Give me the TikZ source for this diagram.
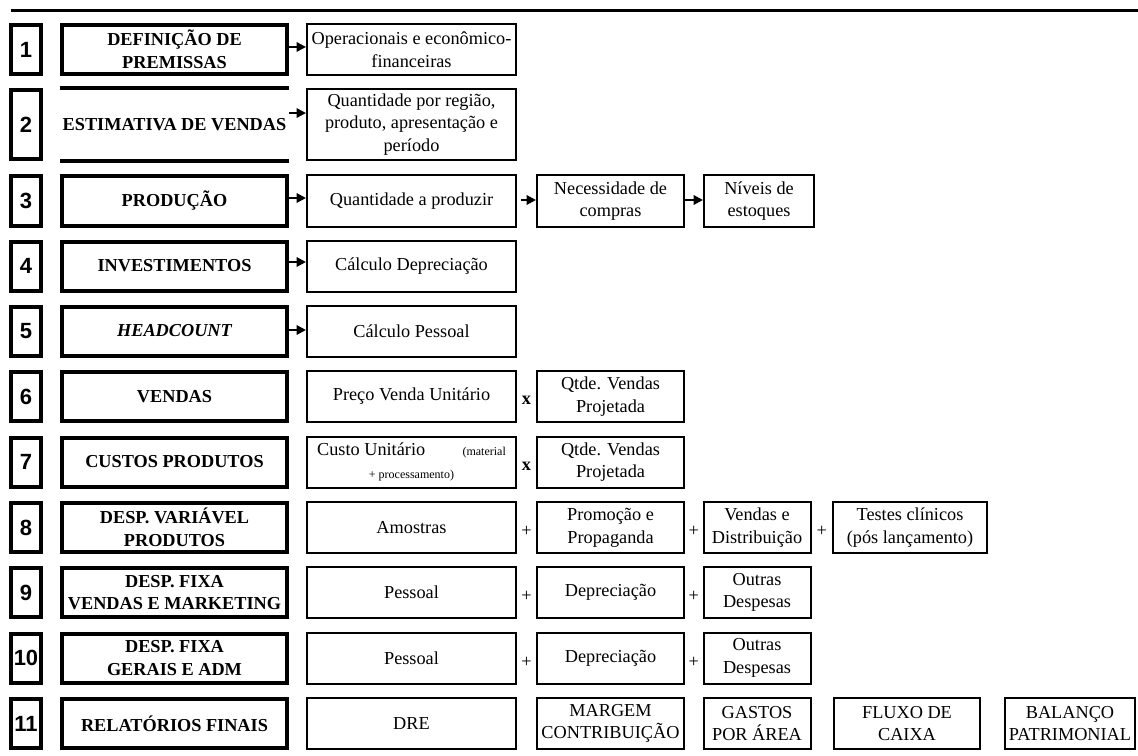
\documentclass[tikz,border=0pt]{standalone}
\usepackage{fontspec}
\setmainfont{Liberation Serif}
\newfontfamily\numfont{Liberation Sans}
\usetikzlibrary{arrows.meta,calc}
\newcommand{\txtsize}{\fontsize{13.7}{17}\selectfont}
\newcommand{\smallsize}{\fontsize{9}{11}\selectfont}

\begin{document}
\begin{tikzpicture}[x=0.75pt, y=-0.75pt,
  font=\txtsize,
  numbox/.style={draw, line width=3pt, inner sep=0pt, minimum width=22.5pt, minimum height=36.75pt, font=\numfont\bfseries\fontsize{16.5}{18}\selectfont},
  mainbox/.style={draw, line width=3pt, inner sep=0pt, minimum width=168.75pt, minimum height=36.75pt, align=center, font=\bfseries\txtsize},
  dbox/.style={draw, line width=1.5pt, inner sep=0pt, minimum width=#1*0.75pt, minimum height=38.25pt, align=center},
  op/.style={inner sep=0pt, yshift=-3pt},
  arr/.style={line width=1.5pt, -{Triangle[length=7pt, width=7pt]}}
]
  \useasboundingbox (0,0) rectangle (1138,756);
  \draw[line width=2.25pt] (11,11) -- (1138,11);

  \foreach \i/\y in {1/49.5,3/201,4/266,5/331,6/396.5,7/462,8/527.5,9/592.5,10/658,11/723.5}
    {\node[numbox] (n\i) at (26,\y) {\i};}
  \node[numbox, minimum height=51.75pt] (n2) at (26,124.5) {2};

  \node[mainbox] (m1) at (174.5,49.5) {DEFINIÇÃO DE\\PREMISSAS};
  \node[mainbox, draw=none, minimum height=51.75pt] (m2) at (174.5,124.5) {ESTIMATIVA DE VENDAS};
  \draw[line width=3pt] (m2.north west) -- (m2.north east) (m2.south west) -- (m2.south east);
  \node[mainbox] (m3) at (174.5,201) {PRODUÇÃO};
  \node[mainbox] (m4) at (174.5,266) {INVESTIMENTOS};
  \node[mainbox] (m5) at (174.5,331) {\itshape HEADCOUNT};
  \node[mainbox] (m6) at (174.5,396.5) {VENDAS};
  \node[mainbox] (m7) at (174.5,462) {CUSTOS PRODUTOS};
  \node[mainbox] (m8) at (174.5,527.5) {DESP. VARIÁVEL\\PRODUTOS};
  \node[mainbox] (m9) at (174.5,592.5) {DESP. FIXA\\VENDAS E MARKETING};
  \node[mainbox] (m10) at (174.5,658) {DESP. FIXA\\GERAIS E ADM};
  \node[mainbox] (m11) at (174.5,723.5) {RELATÓRIOS FINAIS};

  \node[dbox=209] (d1) at (411.5,49.5) {Operacionais e econômico-\\financeiras};
  \node[dbox=209, minimum height=53.25pt] (d2) at (411.5,124.5) {Quantidade por região,\\produto, apresentação e\\período};
  \node[dbox=209] (d3) at (411.5,201) {Quantidade a produzir};
  \node[dbox=209] (d4) at (411.5,266) {Cálculo Depreciação};
  \node[dbox=209] (d5) at (411.5,331) {Cálculo Pessoal};
  \node[dbox=209] (d6) at (411.5,396.5) {Preço Venda Unitário};
  \node[dbox=209] (d7) at (411.5,462) {Custo Unitário\hspace{28pt}{\smallsize(material}\\{\smallsize+ processamento)}};
  \node[dbox=209] (d8) at (411.5,527.5) {Amostras};
  \node[dbox=209] (d9) at (411.5,592.5) {Pessoal};
  \node[dbox=209] (d10) at (411.5,658) {Pessoal};
  \node[dbox=209] (d11) at (411.5,723.5) {DRE};

  \node[dbox=147] (e3) at (610.5,201) {Necessidade de\\compras};
  \node[dbox=147] (e6) at (610.5,396.5) {Qtde. Vendas\\Projetada};
  \node[dbox=147] (e7) at (610.5,462) {Qtde. Vendas\\Projetada};
  \node[dbox=147] (e8) at (610.5,527.5) {Promoção e\\Propaganda};
  \node[dbox=147] (e9) at (610.5,592.5) {Depreciação};
  \node[dbox=147] (e10) at (610.5,658) {Depreciação};
  \node[dbox=147] (e11) at (610.5,723.5) {MARGEM\\CONTRIBUIÇÃO};

  \node[dbox=110] (f3) at (759,201) {Níveis de\\estoques};
  \node[dbox=107] (f8) at (757,527.5) {Vendas e\\Distribuição};
  \node[dbox=107] (f9) at (757,592.5) {Outras\\Despesas};
  \node[dbox=107] (f10) at (757,658) {Outras\\Despesas};
  \node[dbox=107] (f11) at (757,723.5) {GASTOS\\POR ÁREA};

  \node[dbox=154] (g8) at (910,527.5) {Testes clínicos\\(pós lançamento)};
  \node[dbox=146] (g11) at (907,723.5) {FLUXO DE\\CAIXA};
  \node[dbox=130] (h11) at (1070,723.5) {BALANÇO\\PATRIMONIAL};

  \foreach \i in {6,7}
    {\node[op] (x\i) at ($(d\i.east)!0.5!(e\i.west)$) {\textbf{x}};}
  \foreach \i in {8,9,10}
    {\node[op] (p\i) at ($(d\i.east)!0.5!(e\i.west)$) {+};
     \node[op] (q\i) at ($(e\i.east)!0.5!(f\i.west)$) {+};}
  \node[op] (r8) at ($(f8.east)!0.5!(g8.west)$) {+};

  \foreach \i/\s in {1/1.9,2/8.6,3/2.25,4/3,5/0.75}
    {\draw[arr] ([yshift=\s pt]m\i.east) -- ([yshift=\s pt]d\i.west);}
  \draw[arr, shorten <=3pt] ([yshift=0.75pt]d3.east) -- ([yshift=0.75pt]e3.west);
  \draw[arr] ([yshift=0.75pt]e3.east) -- ([yshift=0.75pt]f3.west);
\end{tikzpicture}
\end{document}
